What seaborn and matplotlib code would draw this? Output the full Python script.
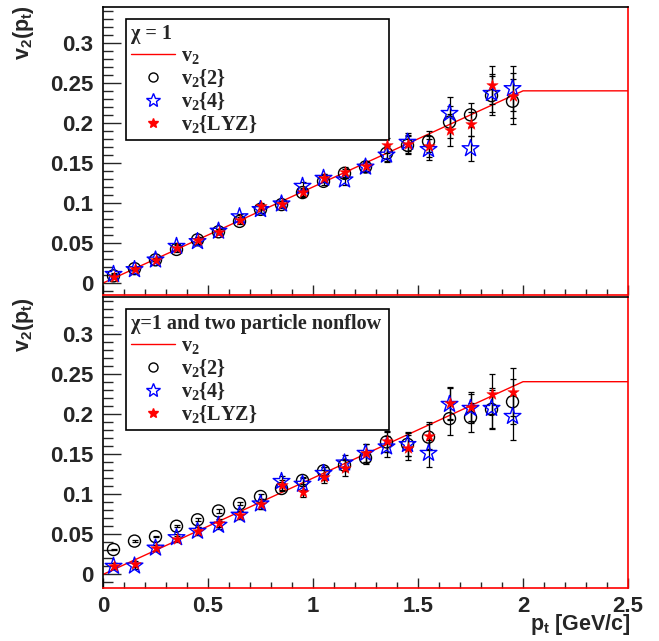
import matplotlib
matplotlib.use("Agg")
import matplotlib.pyplot as plt
import seaborn as sns
import pandas as pd
from matplotlib.lines import Line2D
from matplotlib.ticker import MultipleLocator, FuncFormatter

# transverse momentum bins (GeV/c)
pt = [0.05, 0.15, 0.25, 0.35, 0.45, 0.55, 0.65, 0.75, 0.85, 0.95,
      1.05, 1.15, 1.25, 1.35, 1.45, 1.55, 1.65, 1.75, 1.85, 1.95]

# input v2(pt) shape
line_pt = [0.0, 2.0, 2.5]
line_v2 = [0.0, 0.24, 0.24]

# top panel: chi = 1
top_v2_2 = [0.009, 0.018, 0.029, 0.042, 0.054, 0.064, 0.077, 0.092, 0.098, 0.113,
            0.127, 0.137, 0.145, 0.162, 0.172, 0.177, 0.201, 0.210, 0.234, 0.227]
top_v2_4 = [0.011, 0.017, 0.029, 0.046, 0.052, 0.065, 0.083, 0.092, 0.099, 0.121,
            0.131, 0.129, 0.145, 0.160, 0.176, 0.167, 0.212, 0.168, 0.237, 0.243]
top_lyz = [0.008, 0.018, 0.029, 0.044, 0.054, 0.064, 0.079, 0.096, 0.099, 0.114,
           0.131, 0.139, 0.146, 0.172, 0.174, 0.171, 0.191, 0.199, 0.247, 0.234]
top_err = [0.002, 0.002, 0.002, 0.003, 0.003, 0.003, 0.003, 0.004, 0.004, 0.005,
           0.005, 0.006, 0.006, 0.009, 0.011, 0.013, 0.020, 0.015, 0.024, 0.028]

# bottom panel: chi = 1 plus two particle nonflow
bot_v2_2 = [0.031, 0.0415, 0.047, 0.060, 0.068, 0.079, 0.088, 0.097, 0.107, 0.117,
            0.129, 0.136, 0.145, 0.165, 0.162, 0.171, 0.194, 0.1955, 0.2055, 0.215]
bot_v2_4 = [0.0103, 0.0107, 0.033, 0.046, 0.054, 0.0614, 0.074, 0.088, 0.116, 0.1125,
            0.126, 0.139, 0.151, 0.159, 0.162, 0.151, 0.212, 0.207, 0.207, 0.197]
bot_lyz = [0.0103, 0.0128, 0.033, 0.044, 0.054, 0.0635, 0.074, 0.088, 0.111, 0.103,
           0.1215, 0.132, 0.151, 0.166, 0.158, 0.1726, 0.213, 0.209, 0.225, 0.227]
bot_err_2 = [0.001, 0.001, 0.001, 0.001, 0.002, 0.002, 0.002, 0.003, 0.003, 0.004,
             0.005, 0.007, 0.008, 0.012, 0.014, 0.016, 0.020, 0.018, 0.024, 0.028]
bot_err = [0.004, 0.004, 0.004, 0.004, 0.005, 0.005, 0.005, 0.006, 0.006, 0.007,
           0.008, 0.010, 0.011, 0.013, 0.015, 0.017, 0.020, 0.018, 0.025, 0.030]

sns.set_style("ticks")
plt.rcParams.update({
    "font.family": ["Liberation Sans", "DejaVu Sans"],
    "font.weight": "bold",
    "mathtext.fontset": "custom",
    "mathtext.rm": "Liberation Serif:bold",
    "mathtext.it": "Liberation Serif:bold",
    "mathtext.bf": "Liberation Serif:bold",
    "mathtext.sf": "Liberation Sans:bold",
})

fig = plt.figure(figsize=(6.59, 6.41), dpi=100)
ax_top = fig.add_axes([0.1563, 0.5398, 0.7967, 0.4493])
ax_bot = fig.add_axes([0.1563, 0.0827, 0.7967, 0.4540])


def zero_fmt(v, p):
    return "0" if abs(v) < 1e-9 else f"{v:g}"


def draw_panel(ax, v2_2, e2, v2_4, e4, lyz, elyz, title, ylim):
    line_df = pd.DataFrame({"pt": line_pt, "v2": line_v2})
    sns.lineplot(data=line_df, x="pt", y="v2", color="red", lw=1.0, ax=ax,
                 legend=False, zorder=2)
    for vals, errs in [(v2_2, e2), (v2_4, e4), (lyz, elyz)]:
        ax.errorbar(pt, vals, yerr=errs, fmt="none", ecolor="black",
                    elinewidth=0.9, capsize=2, capthick=0.9, zorder=3)
    sns.scatterplot(x=pt, y=v2_2, marker="o", s=75, facecolor="none",
                    edgecolor="black", linewidth=1.0, ax=ax, zorder=4)
    sns.scatterplot(x=pt, y=v2_4, marker="*", s=160, facecolor="none",
                    edgecolor="blue", linewidth=1.0, ax=ax, zorder=5)
    sns.scatterplot(x=pt, y=lyz, marker="*", s=75, color="red",
                    edgecolor="red", linewidth=0.3, ax=ax, zorder=6)

    ax.set_xlim(0, 2.5)
    ax.set_ylim(*ylim)
    ax.set_xlabel("")
    ax.set_ylabel("")
    ax.xaxis.set_major_locator(MultipleLocator(0.5))
    ax.xaxis.set_minor_locator(MultipleLocator(0.1))
    ax.yaxis.set_major_locator(MultipleLocator(0.05))
    ax.yaxis.set_minor_locator(MultipleLocator(0.01))
    ax.tick_params(axis="y", which="major", direction="in", length=13, width=1,
                   labelsize=16, pad=7)
    ax.tick_params(axis="y", which="minor", direction="in", length=7, width=1)
    ax.tick_params(axis="x", which="major", direction="in", length=7, width=1,
                   labelsize=16, pad=6)
    ax.tick_params(axis="x", which="minor", direction="in", length=4, width=1)
    ax.yaxis.set_major_formatter(FuncFormatter(zero_fmt))
    ax.xaxis.set_major_formatter(FuncFormatter(zero_fmt))
    ax.spines["left"].set_color("black")
    ax.spines["top"].set_color("black")
    ax.spines["right"].set_color("red")
    ax.spines["bottom"].set_color("red")
    for sp in ax.spines.values():
        sp.set_linewidth(1.2)

    handles = [
        Line2D([], [], color="red", lw=1.0),
        Line2D([], [], marker="o", ls="none", mfc="none", mec="black", ms=6.5, mew=1.0),
        Line2D([], [], marker="*", ls="none", mfc="none", mec="blue", ms=10, mew=1.0),
        Line2D([], [], marker="*", ls="none", mfc="red", mec="red", ms=7.5),
    ]
    labels = ["v$_2$", "v$_2${2}", "v$_2${4}", "v$_2${LYZ}"]
    leg = ax.legend(handles, labels, title=title, loc="upper left",
                    bbox_to_anchor=(0.044, 0.3, 0.501, 0.66), mode="expand",
                    borderaxespad=0, frameon=True, fancybox=False,
                    edgecolor="black", framealpha=1, handlelength=2.2,
                    handletextpad=0.3, labelspacing=0.1, borderpad=0.25,
                    alignment="left",
                    prop={"family": "Liberation Serif", "weight": "bold", "size": 14.5})
    leg.get_title().set_fontfamily("Liberation Serif")
    leg.get_title().set_fontweight("bold")
    leg.get_title().set_fontsize(14.5)
    leg.get_frame().set_linewidth(1.2)


draw_panel(ax_top, top_v2_2, top_err, top_v2_4, top_err, top_lyz, top_err,
           "χ = 1", (-0.0149, 0.3447))
draw_panel(ax_bot, bot_v2_2, bot_err_2, bot_v2_4, bot_err, bot_lyz, bot_err,
           "χ=1 and two particle nonflow", (-0.0169, 0.3455))
ax_top.tick_params(axis="x", labelbottom=False)

ylab = "v$_\\mathsf{2}$(p$_\\mathsf{t}$)"
fig.text(0.036, 0.992, ylab, rotation=90, ha="center", va="top",
         fontsize=15.5, fontweight="bold")
fig.text(0.036, 0.537, ylab, rotation=90, ha="center", va="top",
         fontsize=15.5, fontweight="bold")
fig.text(0.957, 0.017, "p$_\\mathsf{t}$ [GeV/c]", ha="right", va="baseline",
         fontsize=15.5, fontweight="bold")

fig.savefig("out.png", dpi=100, facecolor="white")
